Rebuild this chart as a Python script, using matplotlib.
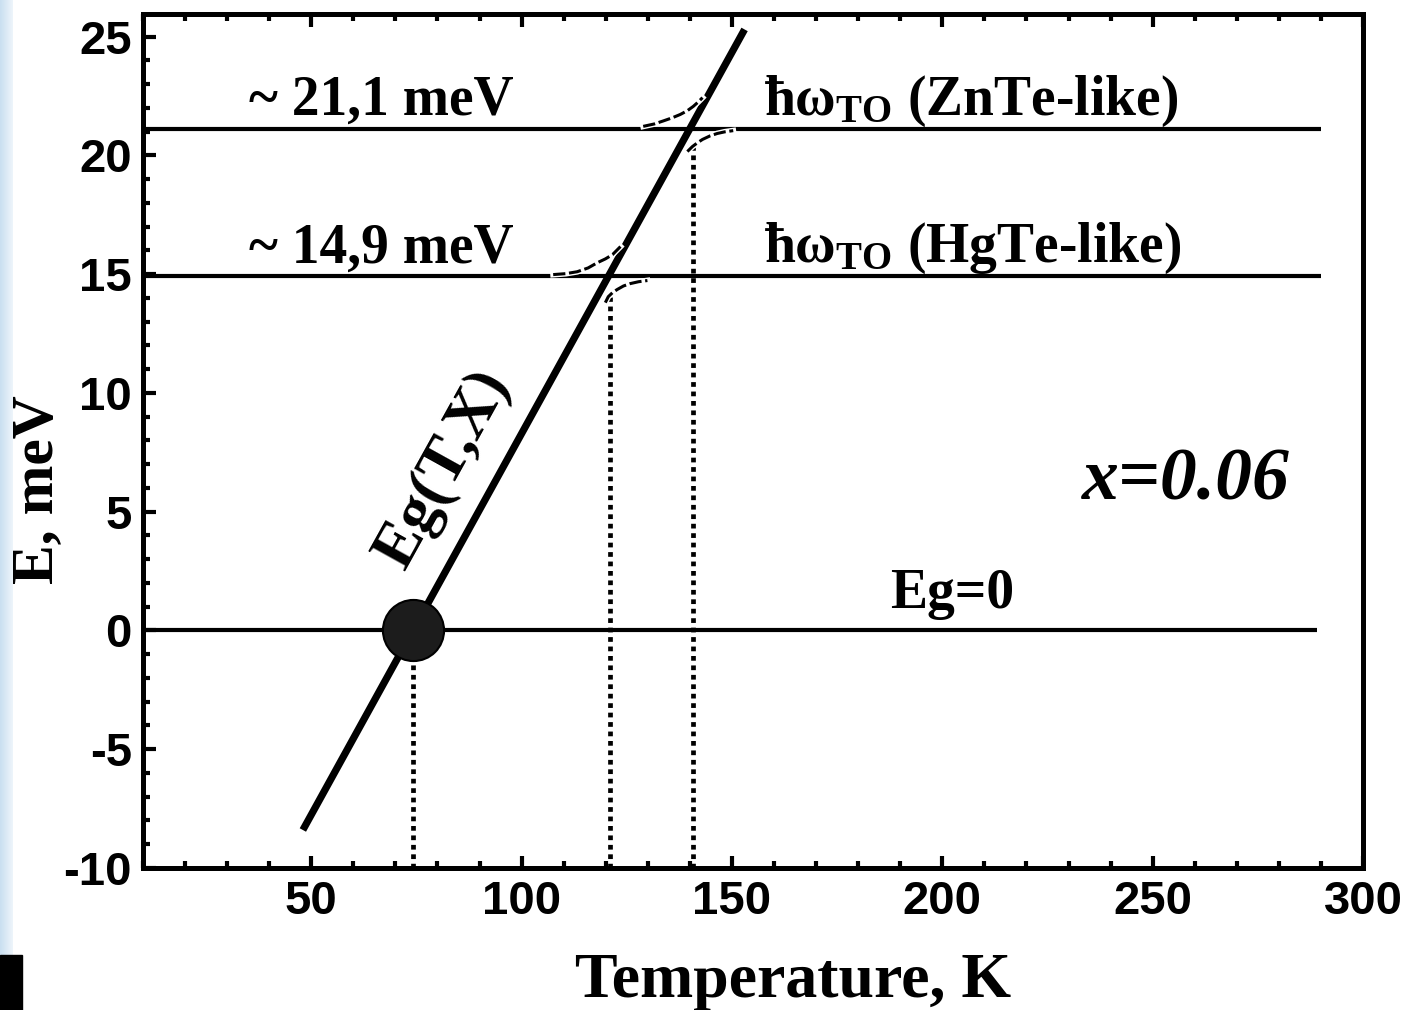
import numpy as np
import matplotlib
matplotlib.use("Agg")
from matplotlib import pyplot as plt
from matplotlib.patches import Rectangle
from matplotlib.ticker import MultipleLocator

plt.rcParams['mathtext.fontset'] = 'custom'
plt.rcParams['mathtext.rm'] = 'Liberation Serif:bold'
plt.rcParams['mathtext.it'] = 'Liberation Serif:bold:italic'
plt.rcParams['mathtext.bf'] = 'Liberation Serif:bold'
plt.rcParams['axes.unicode_minus'] = False

# Band gap line Eg(T,x)
eg_T = [48, 153]
eg_E = [-8.4, 25.3]

# Phonon levels (meV) and labels
phonon_E = [21.1, 14.9]
phonon_val_labels = ["~ 21,1 meV", "~ 14,9 meV"]
phonon_names = [r"ħω$_{\rm TO}$ (ZnTe-like)", r"ħω$_{\rm TO}$ (HgTe-like)"]
level_T_end = 290
zero_T_end = 289

# Crossing temperatures (dotted drop lines) and their top energies
cross_T = [74.2, 121.1, 140.8]
cross_top = [-1.2, 14.05, 20.35]

# Anticrossing branches
up_zn_T = [128.9, 131.5, 133.7, 135.8, 137.7, 139.4, 140.8, 142.0, 143.0]
up_zn_E = [21.22, 21.32, 21.45, 21.58, 21.72, 21.88, 22.06, 22.25, 22.43]
lo_zn_T = [139.4, 140.6, 141.8, 143.0, 144.8, 146.5, 148.3, 150.3]
lo_zn_E = [20.16, 20.37, 20.53, 20.67, 20.82, 20.92, 20.99, 21.04]
up_hg_T = [107.5, 110.5, 113.2, 115.8, 118.0, 119.9, 121.6, 123.5]
up_hg_E = [14.98, 15.02, 15.10, 15.26, 15.48, 15.64, 15.82, 16.16]
lo_hg_T = [119.9, 120.6, 121.6, 122.7, 124.2, 125.8, 127.8, 129.9]
lo_hg_E = [13.80, 14.05, 14.22, 14.35, 14.50, 14.60, 14.68, 14.73]

fig = plt.figure(figsize=(14.08, 10.10), dpi=100)

# page decorations at left edge (drawn first, under everything)
grad = np.linspace(0, 1, 50).reshape(1, -1)
strip = fig.add_axes([0, 0, 13/1408, 1], zorder=-5)
strip.imshow(grad, aspect='auto', cmap=matplotlib.colors.LinearSegmentedColormap.from_list(
    'b', ['#c9dff0', '#eef5fb']), extent=[0, 1, 0, 1])
strip.axis('off')
fig.patches.append(Rectangle((0, 0), 22/1408, 55/1010, transform=fig.transFigure,
                             color='black', zorder=10))

ax = fig.add_axes([143/1408, 1 - 868/1010, 1220/1408, 854/1010])

# horizontal levels
for e in phonon_E:
    ax.plot([10, level_T_end], [e, e], color='black', lw=3.0, solid_capstyle='butt', zorder=2)
ax.plot([10, zero_T_end], [0, 0], color='black', lw=3.0, solid_capstyle='butt', zorder=2)

# dotted drop lines
for t, top in zip(cross_T, cross_top):
    ax.plot([t, t], [-10, top], color='black', lw=3.4, linestyle=(0, (1, 1)),
            dash_capstyle='butt', zorder=2)

# Eg line
ax.plot(eg_T, eg_E, color='black', lw=5.2, solid_capstyle='butt', zorder=3)

# anticrossing dashed branches
for tt, ee in [(up_zn_T, up_zn_E), (lo_zn_T, lo_zn_E), (up_hg_T, up_hg_E), (lo_hg_T, lo_hg_E)]:
    ax.plot(tt, ee, color='white', lw=4.2, zorder=4)
    ax.plot(tt, ee, color='black', lw=2.2, linestyle=(0, (4, 1.2)), zorder=5)

# sphere at Eg=0 crossing
ax.plot([cross_T[0]], [0], marker='o', ms=44, mfc='#1c1c1c', mec='black', mew=1.5, zorder=6)

ax.set_xlim(10, 300)
ax.set_ylim(-10, 25.95)
ax.xaxis.set_major_locator(MultipleLocator(50))
ax.xaxis.set_minor_locator(MultipleLocator(10))
ax.yaxis.set_major_locator(MultipleLocator(5))
ax.yaxis.set_minor_locator(MultipleLocator(1))
ax.tick_params(which='both', direction='in', top=True, right=False, width=3)
ax.tick_params(which='major', length=9)
ax.tick_params(which='minor', length=5)
ax.tick_params(axis='x', which='major', pad=9)
ax.tick_params(axis='y', which='major', pad=8)
for lab in ax.get_xticklabels() + ax.get_yticklabels():
    lab.set_fontfamily('Liberation Sans')
    lab.set_fontweight('bold')
    lab.set_fontsize(34)
for s in ax.spines.values():
    s.set_linewidth(3.6)

ax.set_xlabel("Temperature, K", fontfamily='Liberation Serif', fontweight='bold', fontsize=46)
ax.xaxis.label.set_verticalalignment('baseline')
ax.xaxis.set_label_coords(0.533, -0.151)
ax.set_ylabel("E, meV", fontfamily='Liberation Serif', fontweight='bold', fontsize=43)
ax.yaxis.set_label_coords(-0.064, 0.443)

serif = dict(fontfamily='Liberation Serif', fontweight='bold', color='black')
for e, vl, nm in zip(phonon_E, phonon_val_labels, phonon_names):
    ax.text(66.6, e + 0.6, vl, ha='center', va='baseline', fontsize=40, **serif)
    ax.text(157.5, e + 0.6, nm, ha='left', va='baseline', fontsize=40, **serif)
ax.text(202.4, 0.95, "Eg=0", ha='center', va='baseline', fontsize=40, **serif)
ax.text(257.9, 5.5, "x=0.06", ha='center', va='baseline', fontsize=53,
        fontstyle='italic', **serif)
ax.text(81.6, 6.8, "Eg(T,X)", ha='center', va='center', rotation=61, fontsize=46,
        rotation_mode='anchor', **serif)

fig.savefig("out.png", dpi=100)
